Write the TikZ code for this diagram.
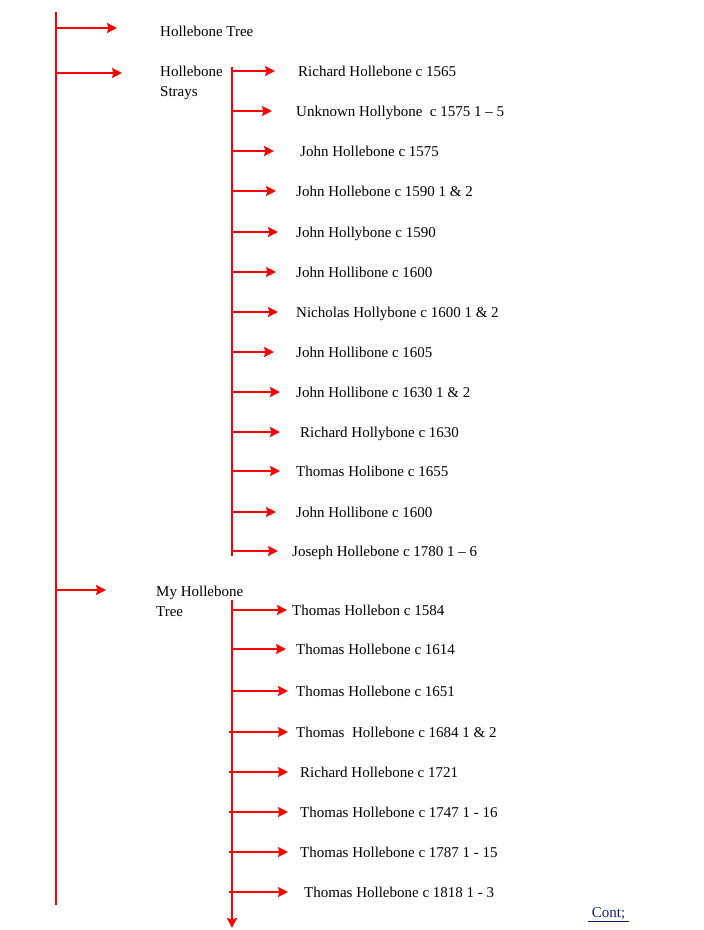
\documentclass[tikz,border=0pt]{standalone}
\usepackage{fontspec}
\usepackage{tikz}
\usetikzlibrary{arrows.meta}
\setmainfont{Liberation Serif}
\definecolor{linkblue}{RGB}{20,30,120}

\tikzset{
  stem/.style={draw=red, line width=2.2pt},
  branch/.style={draw=red, line width=2.2pt, -{Stealth[length=10pt,width=10pt,inset=1.5pt]}},
  entry/.style={anchor=west, inner sep=0pt, text height=10pt, text depth=0pt,
    font=\fontsize{15}{20}\selectfont},
  group/.style={anchor=north west, inner sep=0pt, align=left,
    font=\fontsize{15}{20}\selectfont},
}

\begin{document}
\begin{tikzpicture}[x=1pt, y=-1pt]
\useasboundingbox (0,0) rectangle (704,930);

% main stem
\coordinate (top) at (56,12);
\coordinate (bottom) at (56,905);
\draw[stem] (top) -- (bottom);

% the three groups
\coordinate (b1) at (56,28);
\coordinate (b2) at (56,73);
\coordinate (b3) at (56,590);
\node[entry] (tree) at (160,31) {Hollebone Tree};
\node[group] (strays) at (160,65.5) {Hollebone\\Strays};
\node[group] (mytree) at (156,585.5) {My Hollebone\\Tree};
\draw[branch, shorten >=43pt] (b1) -- (b1 -| tree.west);
\draw[branch, shorten >=38pt] (b2) -- (b2 -| strays.west);
\draw[branch, shorten >=50pt] (b3) -- (b3 -| mytree.west);

% strays
\coordinate (sstem) at (232,67);
\coordinate (send) at (232,556);
\draw[stem] (sstem) -- (send);

\node[entry] (s1) at (298,71) {Richard Hollebone c 1565};
\node[entry] (s2) at (296,111) {Unknown Hollybone\ \ c 1575 1 -- 5};
\node[entry] (s3) at (300,151) {John Hollebone c 1575};
\node[entry] (s4) at (296,191) {John Hollebone c 1590 1 \& 2};
\node[entry] (s5) at (296,232) {John Hollybone c 1590};
\node[entry] (s6) at (296,272) {John Hollibone c 1600};
\node[entry] (s7) at (296,312) {Nicholas Hollybone c 1600 1 \& 2};
\node[entry] (s8) at (296,352) {John Hollibone c 1605};
\node[entry] (s9) at (296,392) {John Hollibone c 1630 1 \& 2};
\node[entry] (s10) at (300,432) {Richard Hollybone c 1630};
\node[entry] (s11) at (296,471) {Thomas Holibone c 1655};
\node[entry] (s12) at (296,512) {John Hollibone c 1600};
\node[entry] (s13) at (292,551) {Joseph Hollebone c 1780 1 -- 6};

\draw[branch, shorten >=23pt] (s1.west -| sstem) -- (s1.west);
\draw[branch, shorten >=24pt] (s2.west -| sstem) -- (s2.west);
\draw[branch, shorten >=26pt] (s3.west -| sstem) -- (s3.west);
\draw[branch, shorten >=20pt] (s4.west -| sstem) -- (s4.west);
\draw[branch, shorten >=18pt] (s5.west -| sstem) -- (s5.west);
\draw[branch, shorten >=20pt] (s6.west -| sstem) -- (s6.west);
\draw[branch, shorten >=18pt] (s7.west -| sstem) -- (s7.west);
\draw[branch, shorten >=22pt] (s8.west -| sstem) -- (s8.west);
\draw[branch, shorten >=16pt] (s9.west -| sstem) -- (s9.west);
\draw[branch, shorten >=20pt] (s10.west -| sstem) -- (s10.west);
\draw[branch, shorten >=16pt] (s11.west -| sstem) -- (s11.west);
\draw[branch, shorten >=20pt] (s12.west -| sstem) -- (s12.west);
\draw[branch, shorten >=14pt] (s13.west -| sstem) -- (s13.west);

% my tree
\coordinate (mstem) at (232,600);
\coordinate (mend) at (232,928);
\draw[branch] (mstem) -- (mend);

\node[entry] (m1) at (292,610) {Thomas Hollebon c 1584};
\node[entry] (m2) at (296,649) {Thomas Hollebone c 1614};
\node[entry] (m3) at (296,691) {Thomas Hollebone c 1651};
\node[entry] (m4) at (296,732) {Thomas\ \ Hollebone c 1684 1 \& 2};
\node[entry] (m5) at (300,772) {Richard Hollebone c 1721};
\node[entry] (m6) at (300,812) {Thomas Hollebone c 1747 1 - 16};
\node[entry] (m7) at (300,852) {Thomas Hollebone c 1787 1 - 15};
\node[entry] (m8) at (304,892) {Thomas Hollebone c 1818 1 - 3};

\draw[branch, shorten >=5pt] (m1.west -| mstem) -- (m1.west);
\draw[branch, shorten >=10pt] (m2.west -| mstem) -- (m2.west);
\draw[branch, shorten >=8pt] (m3.west -| mstem) -- (m3.west);
\draw[branch, shorten >=8pt] ([xshift=-3pt]m4.west -| mstem) -- (m4.west);
\draw[branch, shorten >=12pt] ([xshift=-3pt]m5.west -| mstem) -- (m5.west);
\draw[branch, shorten >=12pt] ([xshift=-3pt]m6.west -| mstem) -- (m6.west);
\draw[branch, shorten >=12pt] ([xshift=-3pt]m7.west -| mstem) -- (m7.west);
\draw[branch, shorten >=16pt] ([xshift=-3pt]m8.west -| mstem) -- (m8.west);

% link
\node[entry, text=linkblue] (cont) at (588,912) {\underline{\ Cont;\ }};
\end{tikzpicture}
\end{document}
